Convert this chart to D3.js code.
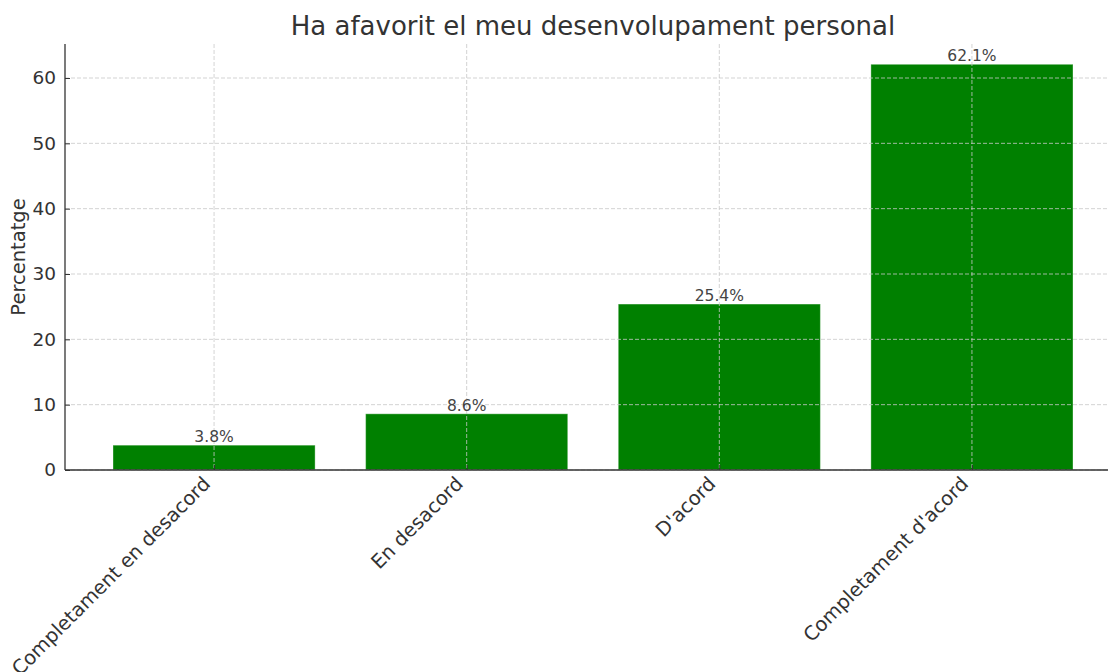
<!DOCTYPE html>
<html>
<head>
<meta charset="utf-8">
<script src="https://cdn.jsdelivr.net/npm/d3@7"></script>
<style>
  body { margin: 0; background: #fff; }
  text { font-family: "DejaVu Sans", sans-serif; fill: #333; }
</style>
</head>
<body>
<div id="chart"></div>
<script>
// data
var categories = ["Completament en desacord", "En desacord", "D'acord", "Completament d'acord"];
var percentages = [3.8, 8.6, 25.4, 62.1];
var yTicks = [0, 10, 20, 30, 40, 50, 60];
var chartTitle = "Ha afavorit el meu desenvolupament personal";
var yLabel = "Percentatge";

var width = 1108, height = 672;
var margin = {top: 44, left: 65, bottom: 202};
var plotRight = 1121;  // plot runs past the window edge, like the original
var plotBottom = height - margin.bottom;

var svg = d3.select("#chart").append("svg")
    .attr("width", width)
    .attr("height", height);

// matplotlib style limits: bars of width 0.8, 5% margins
var xScale = d3.scaleLinear().domain([-0.59, categories.length - 1 + 0.59]).range([margin.left, plotRight]);
var yScale = d3.scaleLinear().domain([0, d3.max(percentages) * 1.05]).range([plotBottom, margin.top]);
var barW = xScale(0.8) - xScale(0);

// bars
svg.selectAll(".bar")
    .data(percentages)
    .enter().append("rect")
    .attr("class", "bar")
    .attr("x", function(d, i) { return xScale(i) - barW / 2; })
    .attr("y", function(d) { return yScale(d); })
    .attr("width", barW)
    .attr("height", function(d) { return plotBottom - yScale(d); })
    .style("fill", "#008000")
    .style("stroke", "rgba(255,255,255,0.35)")
    .style("stroke-width", 1);

// grid on top of the bars
var grid = svg.append("g").attr("class", "grid")
    .style("stroke", "#c8c8c8")
    .style("stroke-dasharray", "4,2")
    .style("stroke-width", 0.8);
grid.selectAll(".hgrid")
    .data(yTicks)
    .enter().append("line")
    .attr("x1", margin.left).attr("x2", plotRight)
    .attr("y1", function(d) { return yScale(d); })
    .attr("y2", function(d) { return yScale(d); });
grid.selectAll(".vgrid")
    .data(categories)
    .enter().append("line")
    .attr("x1", function(d, i) { return xScale(i); })
    .attr("x2", function(d, i) { return xScale(i); })
    .attr("y1", margin.top).attr("y2", plotBottom);

// value labels
svg.selectAll(".val")
    .data(percentages)
    .enter().append("text")
    .attr("class", "val")
    .attr("x", function(d, i) { return xScale(i); })
    .attr("y", function(d) { return yScale(d) - 3; })
    .attr("text-anchor", "middle")
    .style("font-size", "15.5px")
    .style("fill", "#444")
    .text(function(d) { return d.toFixed(1) + "%"; });

// y axis
var yAxis = d3.axisLeft(yScale).tickValues(yTicks).tickSize(-5).tickPadding(9);
var yG = svg.append("g")
    .attr("transform", "translate(" + margin.left + ",0)")
    .call(yAxis);
yG.select(".domain").attr("d", "M0," + margin.top + "V" + plotBottom);

// x axis
var xAxis = d3.axisBottom(xScale).tickValues(d3.range(categories.length))
    .tickSize(-5).tickFormat(function(i) { return categories[i]; });
var xG = svg.append("g")
    .attr("transform", "translate(0," + plotBottom + ")")
    .call(xAxis);
xG.select(".domain").attr("d", "M" + margin.left + ",0H" + plotRight);

svg.selectAll(".domain").style("stroke", "#333").style("stroke-width", 1.3);
svg.selectAll(".tick line").style("stroke", "#333");
svg.selectAll(".tick text").style("fill", "#333").style("font-family", "DejaVu Sans, sans-serif");
yG.selectAll(".tick text").style("font-size", "18.5px");
xG.selectAll(".tick text")
    .style("font-size", "19.5px")
    .attr("text-anchor", "end")
    .attr("dy", null)
    .attr("y", 0)
    .attr("transform", "translate(-3,15) rotate(-45)");

// title and y label
svg.append("text")
    .attr("x", (margin.left + plotRight) / 2)
    .attr("y", 35)
    .attr("text-anchor", "middle")
    .style("font-size", "26px")
    .text(chartTitle);

svg.append("text")
    .attr("transform", "translate(25," + (margin.top + plotBottom) / 2 + ") rotate(-90)")
    .attr("text-anchor", "middle")
    .style("font-size", "19.5px")
    .text(yLabel);
</script>
</body>
</html>
